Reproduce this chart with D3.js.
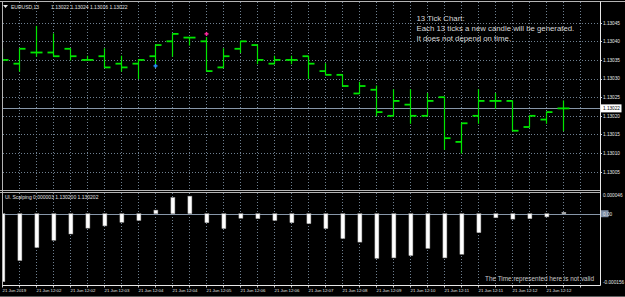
<!DOCTYPE html>
<html><head><meta charset="utf-8">
<script src="https://cdnjs.cloudflare.com/ajax/libs/d3/7.8.5/d3.min.js"></script>
<style>html,body{margin:0;padding:0;background:#000;overflow:hidden}text{font-family:"Liberation Sans",Arial,sans-serif}</style>
</head><body><svg id="c" width="625" height="297"></svg>
<script>
// ---------- data ----------
const symbolLabel = "EURUSD,13";
const opens  = [1.13036,1.13034,1.13037,1.13037,1.13038,1.13035,1.13036,1.13034,1.13034,1.13036,1.13040,1.13041,1.13040,1.13033,1.13038,1.13039,1.13034,1.13035,1.13036,1.13032,1.13031,1.13026,1.13027,1.13020,1.13023,1.13020,1.13025,1.13013,1.13020,1.13024,1.13024,1.13017,1.13019,1.13022];
const highs  = [1.13038,1.13038,1.13044,1.13042,1.13038,1.13036,1.13038,1.13036,1.13035,1.13039,1.13042,1.13041,1.13041,1.13038,1.13040,1.13039,1.13036,1.13036,1.13036,1.13034,1.13031,1.13029,1.13028,1.13027,1.13027,1.13026,1.13025,1.13018,1.13027,1.13026,1.13024,1.13020,1.13021,1.13024];
const lows   = [1.13034,1.13032,1.13036,1.13036,1.13035,1.13035,1.13033,1.13032,1.13030,1.13033,1.13036,1.13039,1.13032,1.13033,1.13037,1.13034,1.13034,1.13034,1.13030,1.13031,1.13028,1.13026,1.13020,1.13020,1.13018,1.13020,1.13011,1.13010,1.13018,1.13022,1.13016,1.13017,1.13018,1.13016];
const closes = [1.13035,1.13038,1.13037,1.13036,1.13036,1.13035,1.13033,1.13033,1.13035,1.13039,1.13042,1.13041,1.13032,1.13036,1.13040,1.13035,1.13035,1.13035,1.13034,1.13031,1.13028,1.13028,1.13021,1.13024,1.13020,1.13024,1.13014,1.13018,1.13024,1.13024,1.13016,1.13020,1.13021,1.13022];
const scalping = [-0.000151,-0.000104,-0.000075,-0.000059,-0.000045,-0.000032,-0.000027,-0.000019,-0.000015,0.000008,0.000036,0.000039,-0.000020,-0.000033,-0.000010,-0.000011,-0.000015,-0.000020,-0.000022,-0.000033,-0.000055,-0.000063,-0.000099,-0.000098,-0.000093,-0.000077,-0.000098,-0.000090,-0.000042,-0.000009,-0.000012,-0.000011,-0.000007,0.000003];
const priceTicks = [1.13005,1.13010,1.13015,1.13020,1.13025,1.13030,1.13035,1.13040,1.13045];
const indicatorTicks = [0.000046,0,-0.000156];
const indicatorTickLabels = ["0.000046","0.00","-0.000156"];
const timeLabels = ["21 Jun 2019","21 Jun 12:02","21 Jun 12:02","21 Jun 12:03","21 Jun 12:04","21 Jun 12:04","21 Jun 12:05","21 Jun 12:06","21 Jun 12:06","21 Jun 12:07","21 Jun 12:08","21 Jun 12:09","21 Jun 12:10","21 Jun 12:11","21 Jun 12:11","21 Jun 12:12","21 Jun 12:12"];
const tradeMarks = [{bar:9, price:1.130334, color:"#2a8cff"},{bar:12, price:1.130420, color:"#ff2aa0"}];
const currentPrice = 1.13022;
const indicatorLabel = "Ul. Scalping 0.000003 1.130200 1.130202";
const noteLines = ["13 Tick Chart:","Each 13 ticks a new candle will be generated.","It does not depend on time."];
const timeNote = "The Time represented here is not valid";

// ---------- scales ----------
const svg = d3.select("#c");
const x = d3.scaleLinear().domain([0, 33]).range([2.5, 563.5]);
const y = d3.scaleLinear().domain([1.13005, 1.13045]).range([171.7, 22.7]);
const yi = d3.scaleLinear().domain([-0.000156, 0.000046]).range([284, 193]);
const fmt = d3.format(".5f");
const gridColor = "#6f8091";

svg.append("rect").attr("width",625).attr("height",297).attr("fill","#000");

const defs = svg.append("defs");
defs.append("clipPath").attr("id","mainClip").append("rect").attr("x",3).attr("y",2).attr("width",597).attr("height",188);
defs.append("clipPath").attr("id","indClip").append("rect").attr("x",3).attr("y",193).attr("width",597).attr("height",92);

// ---------- main grid ----------
const main = svg.append("g").attr("clip-path","url(#mainClip)");
main.selectAll("line.hg").data(priceTicks.concat([1.13000])).join("line")
  .attr("x1",3).attr("x2",600).attr("y1",d=>Math.round(y(d))+0.5).attr("y2",d=>Math.round(y(d))+0.5)
  .attr("stroke",gridColor).attr("stroke-dasharray","1,2");
const gridIdx = d3.range(1, 35);
main.selectAll("line.vg").data(gridIdx).join("line")
  .attr("x1",d=>x(d)).attr("x2",d=>x(d)).attr("y1",2).attr("y2",190)
  .attr("stroke",gridColor).attr("stroke-dasharray","1,2");

// current price line
main.append("line").attr("x1",3).attr("x2",600)
  .attr("y1",Math.round(y(currentPrice))+0.5).attr("y2",Math.round(y(currentPrice))+0.5)
  .attr("stroke","#8796a8").attr("stroke-width",1);

// OHLC bars
const barColor = "#00e600";
const bars = main.selectAll("g.bar").data(d3.range(opens.length)).join("g");
bars.append("line").attr("x1",i=>x(i)).attr("x2",i=>x(i))
  .attr("y1",i=>y(highs[i])-0.5).attr("y2",i=>y(lows[i])+0.5)
  .attr("stroke",barColor).attr("stroke-width",1.2);
bars.append("line").attr("x1",i=>x(i)-6).attr("x2",i=>x(i))
  .attr("y1",i=>y(opens[i])).attr("y2",i=>y(opens[i]))
  .attr("stroke",barColor).attr("stroke-width",1.8);
bars.append("line").attr("x1",i=>x(i)).attr("x2",i=>x(i)+6)
  .attr("y1",i=>y(closes[i])).attr("y2",i=>y(closes[i]))
  .attr("stroke",barColor).attr("stroke-width",1.8);

// trade markers
const tm = main.selectAll("g.tm").data(tradeMarks).join("g")
  .attr("transform",d=>`translate(${x(d.bar)},${y(d.price)})`);
tm.append("line").attr("x1",-2).attr("x2",2).attr("y1",0).attr("y2",0).attr("stroke",d=>d.color).attr("stroke-width",1.5);
tm.append("line").attr("x1",0).attr("x2",0).attr("y1",-2).attr("y2",2).attr("stroke",d=>d.color).attr("stroke-width",1.5);

// header
svg.append("path").attr("d","M3,5 L8,5 L5.5,8 Z").attr("fill","#e8e8e8");
svg.append("text").attr("x",11).attr("y",8.5).attr("font-size",5).attr("fill","#e0e0e0").text(symbolLabel);
svg.append("text").attr("x",51).attr("y",8.5).attr("font-size",5).attr("fill","#e0e0e0")
  .text([opens[33],highs[33],lows[33],closes[33]].map(fmt).join(" "));

// note
svg.selectAll("text.note").data(noteLines).join("text")
  .attr("x",416.5).attr("y",(d,i)=>20.5+i*10).attr("font-size",7.8).attr("fill","#d8d8d8").text(d=>d);

// price axis
svg.selectAll("text.pa").data(priceTicks).join("text")
  .attr("x",603).attr("y",d=>y(d)+1.8).attr("font-size",4.7).attr("fill","#e6e6e6").text(d=>fmt(d));
svg.selectAll("line.pt").data(priceTicks).join("line")
  .attr("x1",600).attr("x2",602).attr("y1",d=>Math.round(y(d))+0.5).attr("y2",d=>Math.round(y(d))+0.5).attr("stroke","#d0d0d0");
svg.append("rect").attr("x",600.5).attr("y",y(currentPrice)-4).attr("width",21).attr("height",8).attr("fill","#ffffff");
svg.append("text").attr("x",603).attr("y",y(currentPrice)+1.8).attr("font-size",4.7).attr("fill","#000").text(fmt(currentPrice));

// ---------- indicator panel ----------
const ind = svg.append("g").attr("clip-path","url(#indClip)");
ind.selectAll("line.vg").data(gridIdx).join("line")
  .attr("x1",d=>x(d)).attr("x2",d=>x(d)).attr("y1",193).attr("y2",285)
  .attr("stroke",gridColor).attr("stroke-dasharray","1,2");
ind.append("line").attr("x1",3).attr("x2",600).attr("y1",Math.round(yi(0))+0.5).attr("y2",Math.round(yi(0))+0.5)
  .attr("stroke","#8796a8");
ind.selectAll("rect.h").data(scalping).join("rect")
  .attr("x",(d,i)=>x(i)-1.6).attr("width",4)
  .attr("y",d=>Math.min(yi(d),yi(0))).attr("height",d=>Math.abs(yi(d)-yi(0)))
  .attr("fill","#ffffff").attr("stroke","#9a9a9a").attr("stroke-width",0.5);

svg.append("text").attr("x",5).attr("y",199).attr("font-size",5).attr("fill","#e0e0e0").text(indicatorLabel);
svg.append("text").attr("x",485).attr("y",280.5).attr("font-size",6.4).attr("fill","#c8c8c8").text(timeNote);

svg.append("rect").attr("x",600.5).attr("y",yi(0)-3.5).attr("width",8).attr("height",7).attr("fill","#7d8ca3");
svg.selectAll("text.ia").data(indicatorTicks).join("text")
  .attr("x",603).attr("y",(d,i)=> i===0 ? yi(d)+3.8 : (i===2 ? yi(d)-0.5 : yi(d)+1.8))
  .attr("font-size",4.7).attr("fill","#e6e6e6").text((d,i)=>indicatorTickLabels[i]);

// ---------- time axis ----------
svg.selectAll("line.tt").data(d3.range(0,35)).join("line")
  .attr("x1",d=>x(d)).attr("x2",d=>x(d)).attr("y1",285).attr("y2",287.5).attr("stroke","#c8c8c8");
svg.selectAll("text.tl").data(timeLabels).join("text")
  .attr("x",(d,i)=>x(i*2)).attr("y",292).attr("font-size",4.3).attr("fill","#e0e0e0").text(d=>d);

// ---------- frames ----------
const frame = svg.append("g").attr("stroke","#b4b4b4").attr("fill","none");
frame.append("line").attr("x1",0).attr("x2",625).attr("y1",1.5).attr("y2",1.5);
frame.append("line").attr("x1",2.5).attr("x2",2.5).attr("y1",1.5).attr("y2",285.5);
frame.append("line").attr("x1",0).attr("x2",600).attr("y1",190.5).attr("y2",190.5);
frame.append("line").attr("x1",0).attr("x2",600).attr("y1",192.5).attr("y2",192.5);
frame.append("line").attr("x1",600.5).attr("x2",600.5).attr("y1",1.5).attr("y2",285.5).attr("stroke","#e8e8e8");
frame.append("line").attr("x1",2.5).attr("x2",600.5).attr("y1",285.5).attr("y2",285.5).attr("stroke","#e8e8e8");
frame.append("line").attr("x1",0).attr("x2",625).attr("y1",296.5).attr("y2",296.5).attr("stroke","#606060");
</script></body></html>
